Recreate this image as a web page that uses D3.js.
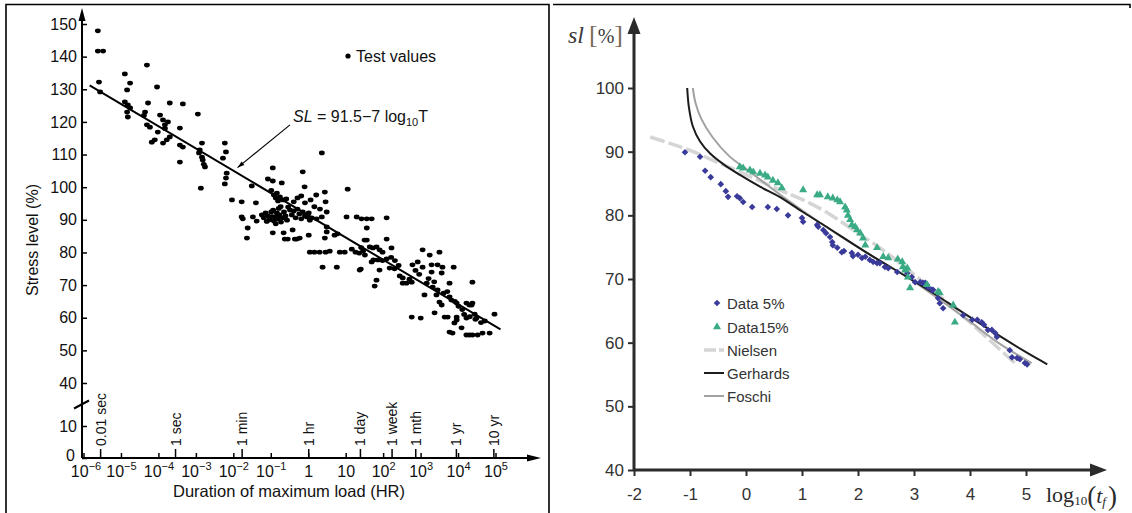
<!DOCTYPE html>
<html>
<head>
<meta charset="utf-8">
<script src="https://cdn.jsdelivr.net/npm/d3@7"></script>
<style>
	body { margin: 0; background: #fff; }
	svg { display: block; }
</style>
</head>
<body>
<svg id="chart" width="1132" height="513"></svg>
<script>
	'use strict';

	// ---- left chart data: log10(duration in hr), stress level (%) ----
	var stressTicks = [0, 10, 40, 50, 60, 70, 80, 90, 100, 110, 120, 130, 140, 150];
	var decadeExps = [-6, -5, -4, -3, -2, -1, 0, 1, 2, 3, 4, 5];
	var timeLabels = ['0.01 sec', '1 sec', '1 min', '1 hr', '1 day', '1 week', '1 mth', '1 yr', '10 yr'];
	var timeHours = [0.01 / 3600, 1 / 3600, 1 / 60, 1, 24, 168, 720, 8760, 87600];
	var fitLine = [[-5.85, 131.2], [5.12, 56.4]];
	var testPoints = [
		[-5.63, 147.9], [-5.63, 141.7], [-5.49, 141.7], [-5.6, 132.2], [-5.57, 129.2],
		[-4.91, 134.7], [-4.77, 131.9], [-4.85, 129.8], [-4.91, 126.1], [-4.83, 125.2], [-4.77, 124.3], [-4.85, 123.0], [-4.83, 121.5],
		[-4.32, 137.4], [-4.05, 130.7], [-4.37, 123.0], [-4.29, 125.8], [-4.4, 122.0], [-4.32, 119.1], [-4.24, 118.4], [-4.19, 113.8], [-4.11, 114.5], [-4.03, 116.9],
		[-3.97, 122.1], [-3.89, 120.6], [-3.76, 120.0], [-3.84, 119.1], [-3.71, 125.8], [-3.79, 114.5], [-3.71, 115.4], [-3.89, 113.5], [-3.84, 118.0],
		[-3.36, 125.5], [-3.44, 118.1], [-3.44, 112.9], [-3.36, 112.3], [-3.44, 107.7],
		[-2.96, 122.4], [-2.85, 113.5], [-2.91, 111.4], [-2.93, 110.5], [-2.85, 109.2], [-2.83, 108.3], [-2.8, 107.0], [-2.77, 106.2], [-2.88, 99.7],
		[-2.24, 113.5], [-2.21, 110.8], [-2.29, 108.9], [-2.19, 104.3], [-2.21, 102.8], [-2.24, 101.0],
		[-2.05, 96.1], [-1.79, 95.5], [-1.79, 90.9], [-1.76, 90.3], [-1.63, 87.5], [-1.65, 84.4], [-1.49, 90.9], [-1.39, 89.6], [-1.52, 100.4], [-1.41, 95.2],
		[-0.96, 105.9], [-1.09, 102.5], [-0.96, 101.9], [-0.72, 101.3], [-0.85, 98.2], [-0.77, 97.0], [-0.69, 96.1], [-0.96, 86.0], [-0.67, 86.0], [-0.64, 84.1], [-0.43, 86.9], [-0.32, 84.1],
		[-1.25, 91.5], [-1.2, 90.6], [-1.15, 92.1], [-1.1, 91.2], [-1.05, 90.0], [-1.0, 92.4], [-0.98, 91.0], [-0.93, 89.6], [-0.9, 90.9], [-0.85, 92.1], [-0.82, 90.3],
		[-0.78, 91.5], [-0.74, 89.3], [-0.7, 90.6], [-0.66, 92.4], [-0.62, 91.2], [-0.58, 89.9], [-1.12, 89.5], [-0.88, 88.8], [-0.95, 93.0], [-0.8, 93.5],
		[-1.0, 99.0], [-0.93, 97.6], [-0.88, 96.7], [-0.82, 95.8], [-0.75, 94.0], [-0.6, 96.4], [-0.55, 93.9],
		[-0.16, 104.7], [-0.11, 100.1], [0.43, 98.5], [0.45, 95.5], [1.04, 99.4], [0.35, 110.5],
		[-0.5, 93.0], [-0.45, 91.5], [-0.4, 92.7], [-0.35, 90.6], [-0.3, 93.3], [-0.25, 91.8], [-0.2, 90.3], [-0.16, 92.4], [-0.1, 91.2], [-0.05, 90.9],
		[0.0, 92.1], [0.03, 89.9], [0.08, 90.6], [0.21, 90.3], [0.35, 90.9], [0.48, 92.4],
		[-0.4, 95.5], [-0.3, 96.7], [-0.2, 97.3], [-0.1, 95.2], [0.05, 96.1], [0.15, 94.0], [0.2, 97.6], [0.3, 93.3],
		[0.48, 87.8], [0.48, 86.3], [0.43, 84.4], [-0.56, 84.1], [-0.37, 84.1], [-0.24, 84.4], [0.0, 85.3],
		[0.69, 85.3], [0.77, 85.7], [1.01, 90.9],
		[0.03, 80.1], [0.15, 80.1], [0.29, 80.1], [0.45, 80.1], [0.56, 80.4], [0.83, 80.1], [0.96, 80.1],
		[0.37, 75.5], [0.75, 75.5],
		[1.28, 90.9], [1.41, 90.3], [1.55, 90.3], [1.68, 90.3], [1.55, 87.5], [2.08, 90.6],
		[1.15, 81.0], [1.25, 80.1], [1.35, 79.8], [1.45, 80.4], [1.4, 81.5], [1.5, 79.2], [1.55, 83.8], [1.49, 83.8], [1.63, 81.7], [1.71, 81.4],
		[1.81, 81.7], [1.89, 80.8], [1.97, 80.1], [1.73, 77.7], [1.85, 77.7], [1.97, 77.5], [2.08, 78.0], [2.08, 84.1], [2.21, 81.4],
		[1.36, 74.6], [1.39, 74.9], [1.89, 74.6], [1.81, 71.5], [1.76, 69.7], [2.16, 75.2], [2.29, 75.0], [1.68, 77.1],
		[2.2, 78.5], [2.3, 77.5], [2.4, 76.0],
		[2.43, 72.8], [2.51, 72.2], [2.69, 71.8], [2.51, 70.6], [2.61, 70.6], [2.75, 70.9],
		[2.77, 76.2], [2.91, 77.1], [3.04, 80.8], [3.23, 79.2], [3.49, 80.1], [3.04, 75.5], [3.28, 76.2], [3.44, 76.2], [3.57, 75.5], [3.28, 74.0], [3.55, 73.7], [3.87, 75.5],
		[2.85, 74.5], [2.95, 73.3], [3.2, 72.0], [3.35, 71.0],
		[3.15, 70.6], [3.31, 69.4], [3.44, 68.5], [3.09, 67.0], [3.41, 67.0], [3.49, 64.8], [3.55, 63.9], [3.76, 70.6], [3.76, 66.4], [3.81, 65.4], [3.95, 64.5],
		[3.6, 67.5], [3.7, 68.0], [3.9, 65.0], [4.0, 63.5], [4.1, 62.5], [4.15, 61.0], [4.3, 60.3], [4.45, 59.5], [4.6, 58.5], [4.7, 59.0],
		[3.63, 60.2], [3.71, 60.2], [3.95, 60.2], [3.36, 61.5], [2.75, 60.2], [2.99, 59.9], [4.08, 56.9],
		[3.95, 59.3], [3.89, 58.4], [3.76, 55.6], [3.84, 55.3], [4.21, 54.7], [4.29, 54.7], [4.37, 54.7], [4.51, 54.7], [4.64, 55.3], [4.83, 55.3],
		[4.37, 70.9], [4.21, 64.5], [4.29, 63.9], [4.37, 64.5], [4.43, 61.1], [4.48, 59.9], [4.96, 61.1], [4.21, 59.9], [4.35, 63.9]
	];

	// ---- right chart data: log10(tf), sl (%) ----
	var slTicks = [40, 50, 60, 70, 80, 90, 100];
	var logTicks = [-2, -1, 0, 1, 2, 3, 4, 5];
	var data5 = [
		[-1.09, 89.9], [-0.82, 89.2], [-0.73, 87.0], [-0.63, 86.0], [-0.45, 84.9], [-0.36, 83.8], [-0.32, 82.9], [-0.16, 83.0], [-0.11, 82.7], [-0.05, 82.1],
		[0.11, 81.3], [0.39, 81.3], [0.55, 81.0], [0.75, 80.0], [1.0, 79.6], [1.02, 79.0], [1.27, 78.5], [1.29, 78.2], [1.38, 77.7], [1.43, 77.2],
		[1.5, 76.6], [1.54, 75.8], [1.55, 75.3], [1.63, 74.9], [1.71, 74.2], [1.75, 74.4], [1.89, 74.1], [1.91, 73.6], [2.0, 73.8], [2.07, 73.3],
		[2.13, 73.5], [2.21, 73.0], [2.27, 72.7], [2.34, 72.5], [2.39, 72.5], [2.48, 71.9], [2.54, 71.7], [2.7, 71.1], [2.88, 70.9], [2.96, 70.3],
		[3.02, 69.5], [3.11, 69.5], [3.16, 69.4], [3.2, 69.4], [3.23, 69.1], [3.25, 68.7], [3.32, 68.3], [3.34, 68.3], [3.43, 67.0], [3.46, 66.2], [3.52, 65.4],
		[3.88, 64.3], [4.04, 63.6], [4.13, 63.6], [4.21, 63.2], [4.25, 62.8], [4.32, 62.0], [4.39, 62.0], [4.45, 61.5], [4.48, 60.9],
		[4.71, 58.8], [4.75, 57.7], [4.84, 57.6], [4.89, 57.4], [4.98, 56.8], [5.02, 56.6]
	];
	var data15 = [
		[-0.11, 87.6], [-0.05, 87.4], [0.07, 87.1], [0.13, 86.8], [0.25, 86.6], [0.34, 86.3], [0.39, 86.0], [0.48, 85.5], [0.57, 85.1], [0.64, 84.3],
		[1.02, 84.0], [1.27, 83.2], [1.32, 83.2], [1.46, 82.9], [1.55, 82.7], [1.63, 82.4], [1.68, 82.1], [1.77, 81.3], [1.8, 80.8], [1.82, 80.0],
		[1.86, 79.3], [1.89, 78.5], [1.95, 78.2], [1.98, 77.7], [2.04, 77.2], [2.09, 76.4], [2.13, 75.3], [2.34, 74.9], [2.45, 73.5], [2.54, 73.3],
		[2.71, 73.1], [2.79, 72.7], [2.8, 71.9], [2.84, 71.4], [2.88, 71.7], [2.89, 70.3], [2.93, 68.6], [3.23, 69.1], [3.43, 68.0], [3.46, 67.8],
		[3.7, 65.9], [3.73, 63.2]
	];
	var nielsen = [[-1.71, 92.3], [-1.36, 91.3], [-1.0, 90.2], [-0.5, 88.3], [0.0, 86.4], [0.6, 84.0], [1.0, 82.5], [1.4, 80.7], [2.0, 77.2],
		[2.5, 74.2], [3.0, 70.7], [3.5, 67.0], [4.0, 63.2], [4.5, 59.2], [4.84, 56.5]];
	var gerhards = [[-1.05, 100], [-1.02, 97.0], [-0.95, 94.0], [-0.82, 91.6], [-0.64, 89.7], [-0.4, 88.0], [-0.1, 86.3], [0.25, 84.5], [0.6, 82.9],
		[1.0, 80.6], [1.4, 78.4], [2.16, 74.1], [2.88, 70.3], [3.34, 67.8], [4.0, 64.0], [5.0, 58.5], [5.38, 56.6]];
	var foschi = [[-0.95, 100], [-0.9, 97.6], [-0.8, 95.2], [-0.6, 92.3], [-0.3, 89.3], [0.0, 87.3], [0.3, 85.3], [0.6, 83.3], [1.0, 80.8],
		[1.5, 77.8], [2.0, 75.0], [2.5, 72.3], [3.0, 69.6], [3.5, 66.5], [4.0, 63.3], [4.5, 60.0], [5.1, 56.8]];
	var legendNames = ['Data 5%', 'Data15%', 'Nielsen', 'Gerhards', 'Foschi'];

	var svg = d3.select('#chart');
	var sans = '"Liberation Sans", Arial, sans-serif';
	var serif = '"Liberation Serif", "Times New Roman", serif';

	// frames
	svg.append('path').attr('d', 'M6,513V4.5H549V513')
		.attr('fill', 'none').attr('stroke', '#000').attr('stroke-width', 1.6);
	svg.append('path').attr('d', 'M553,4.5H1130V8')
		.attr('fill', 'none').attr('stroke', '#000').attr('stroke-width', 1.6);

	// ================= LEFT =================
	var gL = svg.append('g');
	var xL = d3.scaleLog().domain([1e-6, 1e5]).range([84, 496]);
	var yL = d3.scaleLinear().domain([0, 10, 40, 150]).range([458, 426, 383, 24]);
	var axL = 82;

	var yAxisL = d3.axisLeft(yL).tickValues(stressTicks).tickSize(-5).tickPadding(5);
	var gy = gL.append('g').attr('transform', 'translate(' + axL + ',0)').call(yAxisL);
	gy.select('.domain').remove();
	gy.selectAll('line').attr('stroke', '#000').attr('stroke-width', 1.5);
	gy.selectAll('text').attr('font-family', sans).attr('font-size', 16).attr('fill', '#111');
	// lift the "0" label a touch so it clears the 10^-6 label below
	gy.selectAll('.tick').filter(function (d) { return d === 0; }).select('text').attr('dy', '0.15em').attr('x', -7);

	// axis lines + arrows
	gL.append('path').attr('d', 'M' + axL + ',' + yL(0) + 'V18')
		.attr('stroke', '#000').attr('stroke-width', 2).attr('fill', 'none');
	gL.append('path').attr('d', 'M' + axL + ',8L' + (axL - 3.5) + ',21L' + (axL + 3.5) + ',21Z').attr('fill', '#000');
	gL.append('path').attr('d', 'M' + axL + ',' + yL(0) + 'H530')
		.attr('stroke', '#000').attr('stroke-width', 2).attr('fill', 'none');
	gL.append('path').attr('d', 'M541,' + yL(0) + 'L527,' + (yL(0) - 3.5) + 'L527,' + (yL(0) + 3.5) + 'Z').attr('fill', '#000');

	// axis break
	var yb = (yL(40) + yL(10)) / 2;
	gL.append('line').attr('x1', axL - 8).attr('y1', yb + 4).attr('x2', axL + 7).attr('y2', yb - 4)
		.attr('stroke', '#000').attr('stroke-width', 2);

	// decade ticks and labels
	decadeExps.forEach(function (k) {
		var x = xL(Math.pow(10, k));
		gL.append('line').attr('x1', x).attr('x2', x).attr('y1', yL(0)).attr('y2', yL(0) - 5)
			.attr('stroke', '#000').attr('stroke-width', 1.5);
		var t = gL.append('text').attr('x', x + (k === -6 ? 2 : 0)).attr('y', 477).attr('text-anchor', 'middle')
			.attr('font-family', sans).attr('font-size', 16).attr('fill', '#111');
		if (k === 0) t.text('1');
		else if (k === 1) t.text('10');
		else {
			t.append('tspan').text('10');
			t.append('tspan').attr('font-size', 11).attr('dy', -7).text(k < 0 ? '\u2212' + (-k) : k);
		}
	});

	// time ticks
	timeHours.forEach(function (h, i) {
		var x = xL(h);
		gL.append('line').attr('x1', x).attr('x2', x).attr('y1', yL(0)).attr('y2', yL(0) - 9)
			.attr('stroke', '#000').attr('stroke-width', 1.5);
		gL.append('text').attr('transform', 'translate(' + (x + 5) + ',446) rotate(-90)')
			.attr('font-family', sans).attr('font-size', 14).attr('fill', '#111').text(timeLabels[i]);
	});

	// test points
	gL.append('g').selectAll('ellipse').data(testPoints).join('ellipse')
		.attr('cx', function (d) { return xL(Math.pow(10, d[0])); })
		.attr('cy', function (d) { return yL(d[1]); })
		.attr('rx', 2.9).attr('ry', 2.4).attr('fill', '#000');

	// fit line
	var lineL = d3.line()
		.x(function (d) { return xL(Math.pow(10, d[0])); })
		.y(function (d) { return yL(d[1]); });
	gL.append('path').datum(fitLine).attr('d', lineL)
		.attr('stroke', '#000').attr('stroke-width', 2).attr('fill', 'none');

	// leader line to fit
	var lx1 = xL(Math.pow(10, -0.5)), ly1 = yL(119.1),
			lx2 = xL(Math.pow(10, -1.9)), ly2 = yL(106);
	gL.append('line').attr('x1', lx1).attr('y1', ly1).attr('x2', lx2).attr('y2', ly2)
		.attr('stroke', '#000').attr('stroke-width', 1.1);
	var ang = Math.atan2(ly2 - ly1, lx2 - lx1);
	gL.append('path')
		.attr('d', 'M0,0L-7,-2.2L-7,2.2Z')
		.attr('transform', 'translate(' + lx2 + ',' + ly2 + ') rotate(' + (ang * 180 / Math.PI) + ')')
		.attr('fill', '#000');

	// formula
	var ft = gL.append('text').attr('x', 293).attr('y', 122)
		.attr('font-family', sans).attr('font-size', 16).attr('fill', '#111');
	ft.append('tspan').attr('font-style', 'italic').text('SL');
	ft.append('tspan').text(' = 91.5\u22127 log');
	ft.append('tspan').attr('font-size', 11).attr('dy', 4).text('10');
	ft.append('tspan').attr('dy', -4).text('T');

	// legend
	gL.append('circle').attr('cx', 348).attr('cy', 56).attr('r', 2.6).attr('fill', '#000');
	gL.append('text').attr('x', 356).attr('y', 62).attr('font-family', sans).attr('font-size', 16)
		.attr('fill', '#111').text('Test values');

	// axis titles
	gL.append('text').attr('transform', 'translate(38,240) rotate(-90)').attr('text-anchor', 'middle')
		.attr('font-family', sans).attr('font-size', 16).attr('fill', '#111').text('Stress level (%)');
	gL.append('text').attr('x', 289).attr('y', 497).attr('text-anchor', 'middle')
		.attr('font-family', sans).attr('font-size', 16.5).attr('fill', '#111').text('Duration of maximum load (HR)');

	// ================= RIGHT =================
	var gR = svg.append('g');
	var xR = d3.scaleLinear().domain([-2, 5]).range([634, 1026]);
	var yR = d3.scaleLinear().domain([40, 100]).range([470, 88]);
	var ink = '#2b2b2b';

	var gyR = gR.append('g').attr('transform', 'translate(' + xR(-2) + ',0)')
		.call(d3.axisLeft(yR).tickValues(slTicks).tickSize(6).tickPadding(4));
	var gxR = gR.append('g').attr('transform', 'translate(0,' + yR(40) + ')')
		.call(d3.axisBottom(xR).tickValues(logTicks).tickSize(6).tickPadding(12)
			.tickFormat(function (d) { return String(d); }));
	[gyR, gxR].forEach(function (g) {
		g.select('.domain').remove();
		g.selectAll('line').attr('stroke', ink).attr('stroke-width', 2);
		g.selectAll('text').attr('font-family', sans).attr('font-size', 17).attr('fill', '#333');
	});

	gR.append('path').attr('d', 'M' + xR(-2) + ',' + yR(40) + 'V30')
		.attr('stroke', ink).attr('stroke-width', 3).attr('fill', 'none');
	gR.append('path').attr('d', 'M' + xR(-2) + ',17L' + (xR(-2) - 6.5) + ',34L' + (xR(-2) + 6.5) + ',34Z').attr('fill', ink);
	gR.append('path').attr('d', 'M' + xR(-2) + ',' + yR(40) + 'H1094')
		.attr('stroke', ink).attr('stroke-width', 3).attr('fill', 'none');
	gR.append('path').attr('d', 'M1107,' + yR(40) + 'L1090,' + (yR(40) - 6.5) + 'L1090,' + (yR(40) + 6.5) + 'Z').attr('fill', ink);

	var lineR = d3.line().curve(d3.curveCatmullRom.alpha(0.5))
		.x(function (d) { return xR(d[0]); })
		.y(function (d) { return yR(d[1]); });

	gR.append('path').datum(nielsen).attr('d', lineR).attr('fill', 'none')
		.attr('stroke', '#d5d5d5').attr('stroke-width', 3.5).attr('stroke-dasharray', '15,4');
	gR.append('path').datum(foschi).attr('d', lineR).attr('fill', 'none')
		.attr('stroke', '#a2a2a2').attr('stroke-width', 2);
	gR.append('path').datum(gerhards).attr('d', lineR).attr('fill', 'none')
		.attr('stroke', '#1c1c1c').attr('stroke-width', 2);

	var diamond = d3.symbol().type(d3.symbolSquare).size(22);
	var triangle = d3.symbol().type(d3.symbolTriangle).size(28);
	var blue = '#3a3a9a', green = '#3aab84';

	gR.append('g').selectAll('path').data(data5).join('path')
		.attr('d', diamond)
		.attr('transform', function (d) { return 'translate(' + xR(d[0]) + ',' + yR(d[1]) + ') rotate(45)'; })
		.attr('fill', blue);
	gR.append('g').selectAll('path').data(data15).join('path')
		.attr('d', triangle)
		.attr('transform', function (d) { return 'translate(' + xR(d[0]) + ',' + yR(d[1]) + ')'; })
		.attr('fill', green);

	// legend
	var legY = [303, 327, 350, 373, 396];
	var lg = gR.append('g').attr('font-family', sans).attr('font-size', 15).attr('fill', '#333');
	lg.append('path').attr('d', diamond).attr('transform', 'translate(717,' + legY[0] + ') rotate(45)').attr('fill', blue);
	lg.append('path').attr('d', triangle).attr('transform', 'translate(717,' + legY[1] + ')').attr('fill', green);
	lg.append('line').attr('x1', 704).attr('x2', 724).attr('y1', legY[2]).attr('y2', legY[2])
		.attr('stroke', '#d5d5d5').attr('stroke-width', 3.5).attr('stroke-dasharray', '12,3');
	lg.append('line').attr('x1', 704).attr('x2', 724).attr('y1', legY[3]).attr('y2', legY[3])
		.attr('stroke', '#1c1c1c').attr('stroke-width', 2);
	lg.append('line').attr('x1', 704).attr('x2', 724).attr('y1', legY[4]).attr('y2', legY[4])
		.attr('stroke', '#a2a2a2').attr('stroke-width', 2);
	legendNames.forEach(function (n, i) {
		lg.append('text').attr('x', 727).attr('y', legY[i] + 5.5).text(n);
	});

	// axis titles
	var yt = gR.append('text').attr('x', 568).attr('y', 43).attr('font-family', serif).attr('fill', '#3a3a3a');
	yt.append('tspan').attr('font-style', 'italic').attr('font-size', 24).text('sl');
	yt.append('tspan').attr('font-size', 26).attr('fill', '#7a6a58').attr('dx', 5).text('[');
	yt.append('tspan').attr('font-size', 20).text('%');
	yt.append('tspan').attr('font-size', 26).attr('fill', '#7a6a58').text(']');

	var xt = gR.append('text').attr('x', 1046).attr('y', 502).attr('font-family', serif).attr('fill', '#2a2a2a');
	xt.append('tspan').attr('font-size', 22).text('log');
	xt.append('tspan').attr('font-size', 13).attr('dy', 3).text('10');
	xt.append('tspan').attr('font-size', 27).attr('dy', 0).text('(');
	xt.append('tspan').attr('font-size', 22).attr('font-style', 'italic').attr('dy', -2).text('t');
	xt.append('tspan').attr('font-size', 13).attr('font-style', 'italic').attr('dy', 3).text('f');
	xt.append('tspan').attr('font-size', 27).attr('dy', -1).attr('dx', 2).text(')');
</script>
</body>
</html>
